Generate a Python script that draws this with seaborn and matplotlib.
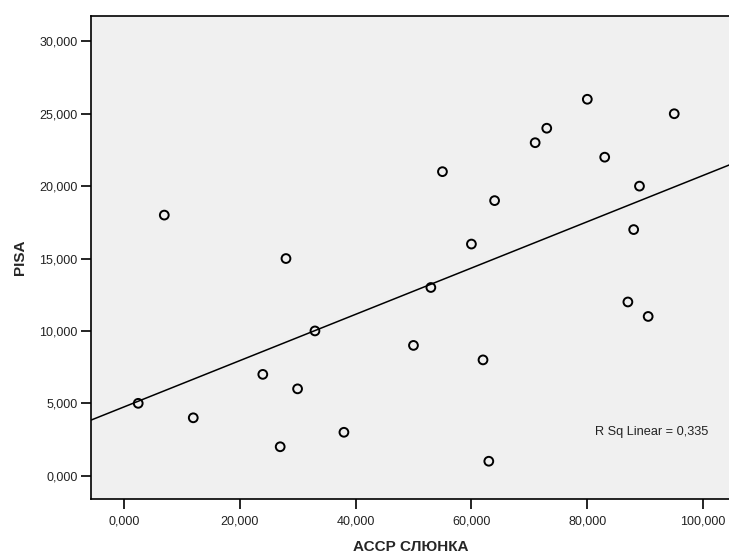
import numpy as np
import pandas as pd
import matplotlib
matplotlib.use("Agg")
import matplotlib.pyplot as plt
from matplotlib.ticker import FuncFormatter
import seaborn as sns

# ACCP saliva level vs PISA score
accp = [2.5, 7, 12, 24, 27, 28, 30, 33, 38, 50, 53, 55, 60, 62, 63,
        64, 71, 73, 80, 83, 87, 88, 89, 90.5, 95]
pisa = [5, 18, 4, 7, 2, 15, 6, 10, 3, 9, 13, 21, 16, 8, 1,
        19, 23, 24, 26, 22, 12, 17, 20, 11, 25]

x_ticks = [0, 20, 40, 60, 80, 100]
y_ticks = [0, 5, 10, 15, 20, 25, 30]

df = pd.DataFrame({"accp": accp, "pisa": pisa})

sns.set_style("white")
plt.rcParams["font.family"] = ["Liberation Sans", "DejaVu Sans"]

fig = plt.figure(figsize=(7.29, 5.54), dpi=100)
ax = fig.add_axes([0.1252, 0.0987, 0.8752, 0.8724])
ax.set_facecolor("#f0f0f0")

ax.set_xlim(-5.6, 104.5)
ax.set_ylim(-1.63, 31.75)

sns.scatterplot(data=df, x="accp", y="pisa", ax=ax, marker="o",
                facecolor="none", edgecolor="black", linewidth=1.4, s=40,
                zorder=3)
sns.regplot(data=df, x="accp", y="pisa", ax=ax, scatter=False, ci=None,
            truncate=False, line_kws={"color": "black", "linewidth": 1.1})

ax.set_xlim(-5.6, 104.5)
ax.set_ylim(-1.63, 31.75)

# coefficient of determination for the linear fit
slope, intercept = np.polyfit(accp, pisa, 1)
pred = slope * np.array(accp) + intercept
ss_res = np.sum((np.array(pisa) - pred) ** 2)
ss_tot = np.sum((np.array(pisa) - np.mean(pisa)) ** 2)
r2 = 1 - ss_res / ss_tot
ax.text(81.3, 3.0, f"R Sq Linear = {r2:.3f}".replace(".", ","),
        fontsize=9.2, va="center", ha="left", color="#222222")

comma = FuncFormatter(lambda v, pos: f"{v:.3f}".replace(".", ","))
ax.set_xticks(x_ticks)
ax.set_yticks(y_ticks)
ax.xaxis.set_major_formatter(comma)
ax.yaxis.set_major_formatter(comma)
ax.tick_params(axis="both", direction="out", length=7, width=1.2,
               labelsize=9, colors="black", labelcolor="#222222", pad=3,
               bottom=True, left=True)
ax.tick_params(axis="x", pad=5)

for side in ["left", "bottom", "top"]:
    ax.spines[side].set_color("black")
    ax.spines[side].set_linewidth(1.2)
ax.spines["right"].set_visible(False)

ax.set_xlabel("АССР СЛЮНКА", fontsize=11, fontweight="bold", labelpad=9)
ax.set_ylabel("PISA", fontsize=11, fontweight="bold", labelpad=9)

fig.savefig("out.png", dpi=100, facecolor="white")
